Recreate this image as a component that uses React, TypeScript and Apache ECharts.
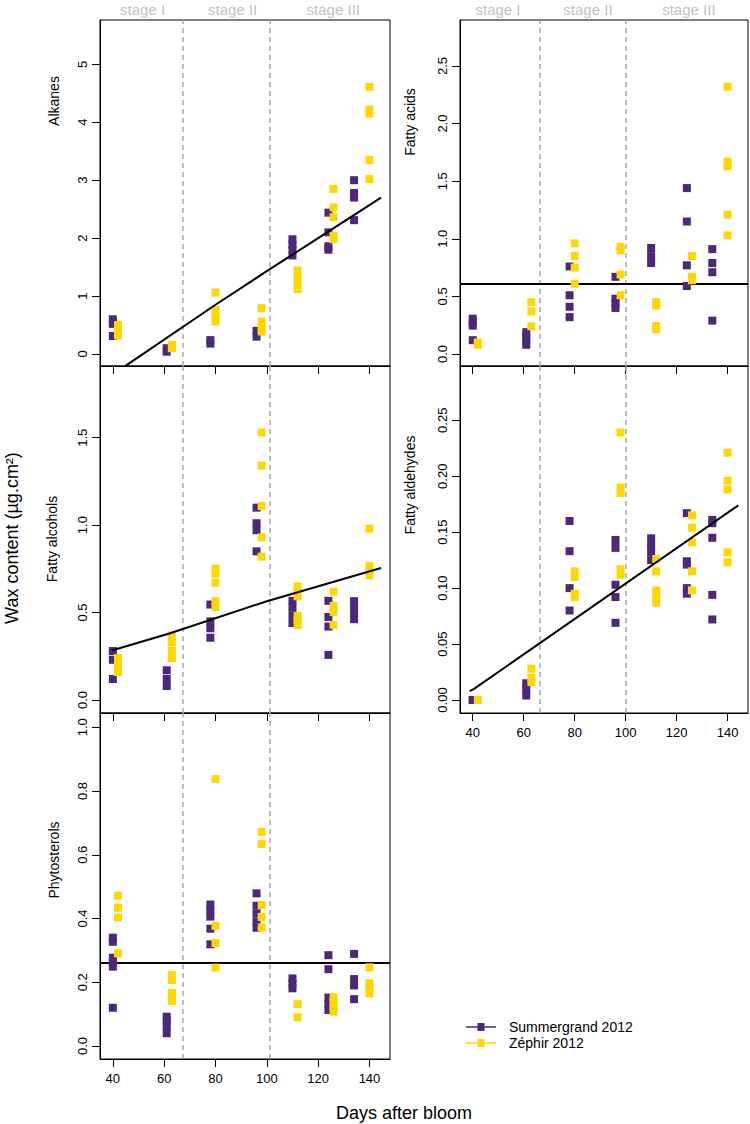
import React, { useEffect, useRef } from 'react';
import * as echarts from 'echarts';

// ---------- data ----------
const summergrandDays = [40, 61, 78, 96, 110, 124, 134];
const zephirDays = [42, 63, 80, 98, 112, 126, 140];

const alkanesSummergrand = [
  [0.31, 0.52, 0.6], [0.04, 0.1], [0.18, 0.24], [0.3, 0.4],
  [1.7, 1.8, 1.89, 1.98], [1.8, 1.86, 2.1, 2.44], [2.31, 2.7, 2.78, 3.0],
];
const alkanesZephir = [
  [0.32, 0.4, 0.5], [0.1, 0.155], [0.56, 0.66, 0.76, 1.06], [0.39, 0.47, 0.56, 0.79],
  [1.12, 1.23, 1.33, 1.44], [1.98, 2.04, 2.36, 2.53, 2.85], [3.02, 3.35, 4.15, 4.22, 4.61],
];
const alkanesFitDays = [44.8, 80, 100, 120, 144.5];
const alkanesFit = [-0.21, 0.85, 1.43, 2.0, 2.7];

const fattyAcidsSummergrand = [
  [0.12, 0.246, 0.276, 0.307], [0.08, 0.12, 0.15, 0.19], [0.32, 0.41, 0.51, 0.76], [0.4, 0.44, 0.48, 0.67],
  [0.79, 0.85, 0.92], [0.59, 0.77, 1.15, 1.44], [0.29, 0.71, 0.79, 0.91],
];
const fattyAcidsZephir = [
  [0.08, 0.1], [0.24, 0.37, 0.45], [0.61, 0.75, 0.85, 0.96], [0.51, 0.69, 0.9, 0.93],
  [0.214, 0.243, 0.42, 0.45], [0.64, 0.67, 0.85], [1.03, 1.21, 1.63, 1.67, 2.32],
];
const fattyAcidsMean = 0.61;

const fattyAlcoholsSummergrand = [
  [0.12, 0.23, 0.28], [0.08, 0.12, 0.17], [0.356, 0.41, 0.45, 0.546], [0.85, 0.971, 1.011, 1.1],
  [0.44, 0.485, 0.53, 0.567], [0.258, 0.42, 0.475, 0.567], [0.462, 0.5, 0.535, 0.565],
];
const fattyAlcoholsZephir = [
  [0.16, 0.2, 0.24], [0.24, 0.28, 0.33, 0.37], [0.532, 0.565, 0.67, 0.722, 0.751], [0.82, 0.93, 1.11, 1.34, 1.53],
  [0.428, 0.455, 0.48, 0.593, 0.62, 0.65], [0.43, 0.504, 0.538, 0.62], [0.713, 0.74, 0.766, 0.98],
];
const fattyAlcoholsFitDays = [39.6, 62, 100, 144.5];
const fattyAlcoholsFit = [0.283, 0.38, 0.565, 0.755];

const fattyAldehydesSummergrand = [
  [0, 0], [0.004, 0.01, 0.015], [0.08, 0.1, 0.133, 0.16], [0.069, 0.092, 0.103, 0.136, 0.143],
  [0.125, 0.132, 0.138, 0.1445], [0.095, 0.1, 0.121, 0.124, 0.167], [0.072, 0.094, 0.145, 0.158, 0.161],
];
const fattyAldehydesZephir = [
  [0], [0.016, 0.02, 0.028], [0.092, 0.095, 0.11, 0.115], [0.112, 0.117, 0.185, 0.19, 0.239],
  [0.087, 0.094, 0.098, 0.115, 0.126], [0.098, 0.115, 0.141, 0.154, 0.165], [0.123, 0.132, 0.188, 0.196, 0.221],
];
const fattyAldehydesFitDays = [38.8, 40.5, 144.2];
const fattyAldehydesFit = [0.008, 0.01, 0.174];

const phytosterolsSummergrand = [
  [0.12, 0.249, 0.263, 0.277, 0.327, 0.34], [0.04, 0.06, 0.08, 0.092], [0.319, 0.368, 0.406, 0.425, 0.444],
  [0.371, 0.39, 0.415, 0.44, 0.479], [0.181, 0.197, 0.212], [0.113, 0.132, 0.152, 0.241, 0.285], [0.147, 0.19, 0.21, 0.289],
];
const phytosterolsZephir = [
  [0.291, 0.403, 0.434, 0.472], [0.141, 0.155, 0.167, 0.207, 0.223], [0.246, 0.323, 0.377, 0.838],
  [0.372, 0.405, 0.442, 0.634, 0.672], [0.09, 0.131], [0.108, 0.123, 0.138, 0.153], [0.165, 0.18, 0.197, 0.247],
];
const phytosterolsMean = 0.262;

const xTicks = [40, 60, 80, 100, 120, 140];
const alkanesTicks = [0, 1, 2, 3, 4, 5];
const fattyAcidsTicks = [0, 0.5, 1, 1.5, 2, 2.5];
const fattyAlcoholsTicks = [0, 0.5, 1, 1.5];
const fattyAldehydesTicks = [0, 0.05, 0.1, 0.15, 0.2, 0.25];
const phytosterolsTicks = [0, 0.2, 0.4, 0.6, 0.8, 1];

const stageNames = ['stage I', 'stage II', 'stage III'];
const stageBoundsLeft = [67.3, 101.3];
const stageBoundsRight = [66.1, 99.9];
const stageLabelDaysLeft = [51.6, 86.7, 125.9];
const stageLabelDaysRight = [49.9, 85.2, 124.8];

const seriesNames = ['Summergrand 2012', 'Zéphir 2012'];

// ---------- styles ----------
const PURPLE = '#4b2879';
const YELLOW = '#ffd700';
const FONT = '"Liberation Sans", Arial, sans-serif';
const X_MIN = 35;
const X_MAX = 148;
const MARK = 8;

const panels = [
  { title: 'Alkanes', left: 100, top: 20, width: 290, height: 346, yMin: -0.207, yMax: 5.765, ticks: alkanesTicks, dec: 0,
    sg: alkanesSummergrand, ze: alkanesZephir, fitX: alkanesFitDays as number[] | null, fitY: alkanesFit as number[] | null, mean: null as number | null,
    bounds: stageBoundsLeft, showX: false, titlePos: [54, 101] },
  { title: 'Fatty alcohols', left: 100, top: 366, width: 290, height: 347, yMin: -0.0743, yMax: 1.91, ticks: fattyAlcoholsTicks, dec: 1,
    sg: fattyAlcoholsSummergrand, ze: fattyAlcoholsZephir, fitX: fattyAlcoholsFitDays, fitY: fattyAlcoholsFit, mean: null,
    bounds: stageBoundsLeft, showX: false, titlePos: [52, 539] },
  { title: 'Phytosterols', left: 100, top: 713, width: 290, height: 346, yMin: -0.0408, yMax: 1.0449, ticks: phytosterolsTicks, dec: 1,
    sg: phytosterolsSummergrand, ze: phytosterolsZephir, fitX: null, fitY: null, mean: phytosterolsMean,
    bounds: stageBoundsLeft, showX: true, titlePos: [54, 860] },
  { title: 'Fatty acids', left: 460, top: 20, width: 288, height: 346, yMin: -0.104, yMax: 2.899, ticks: fattyAcidsTicks, dec: 1,
    sg: fattyAcidsSummergrand, ze: fattyAcidsZephir, fitX: null, fitY: null, mean: fattyAcidsMean,
    bounds: stageBoundsRight, showX: false, titlePos: [410, 122] },
  { title: 'Fatty aldehydes', left: 460, top: 366, width: 288, height: 347, yMin: -0.0116, yMax: 0.2985, ticks: fattyAldehydesTicks, dec: 2,
    sg: fattyAldehydesSummergrand, ze: fattyAldehydesZephir, fitX: fattyAldehydesFitDays, fitY: fattyAldehydesFit, mean: null,
    bounds: stageBoundsRight, showX: true, titlePos: [410, 485] },
];

function buildOption() {
  const grid: any[] = [];
  const xAxis: any[] = [];
  const yAxis: any[] = [];
  const series: any[] = [];
  const graphics: any[] = [];

  panels.forEach((p, i) => {
    grid.push({
      left: p.left, top: p.top, width: p.width, height: p.height,
      show: true, borderColor: '#000', borderWidth: 1, backgroundColor: 'transparent',
      containLabel: false, outerBoundsMode: 'none',
    });
    xAxis.push({
      gridIndex: i, type: 'value', min: X_MIN, max: X_MAX,
      axisLine: { show: true, onZero: false, lineStyle: { color: '#000', width: 1 } },
      axisTick: { show: true, inside: false, length: 8, customValues: xTicks, lineStyle: { color: '#000', width: 1 } },
      axisLabel: { show: p.showX, customValues: xTicks, margin: 13, fontSize: 13, color: '#000', fontFamily: FONT },
      splitLine: { show: false },
    });
    yAxis.push({
      gridIndex: i, type: 'value', min: p.yMin, max: p.yMax,
      axisLine: { show: true, onZero: false, lineStyle: { color: '#000', width: 1 } },
      axisTick: { show: true, inside: false, length: 8, customValues: p.ticks, lineStyle: { color: '#000', width: 1 } },
      axisLabel: {
        customValues: p.ticks, rotate: 90, margin: 11, fontSize: 13, color: '#000', fontFamily: FONT,
        align: 'center', verticalAlign: 'bottom',
        formatter: (v: number) => Number(v).toFixed(p.dec),
      },
      splitLine: { show: false },
    });

    const markData: any[] = p.bounds.map((b) => ({
      xAxis: b, lineStyle: { type: [5, 4], color: '#a8a8a8', width: 1.5 },
    }));
    if (p.mean !== null) {
      markData.push({ yAxis: p.mean, lineStyle: { type: 'solid', color: '#000', width: 2 } });
    }

    series.push({
      type: 'scatter', name: seriesNames[0], xAxisIndex: i, yAxisIndex: i,
      symbol: 'rect', symbolSize: MARK, itemStyle: { color: PURPLE, opacity: 1 }, z: 3,
      data: p.sg.flatMap((vals, j) => vals.map((v) => [summergrandDays[j], v])),
      markLine: { silent: true, symbol: ['none', 'none'], label: { show: false }, data: markData, z: 2 },
    });
    series.push({
      type: 'scatter', name: seriesNames[1], xAxisIndex: i, yAxisIndex: i,
      symbol: 'rect', symbolSize: MARK, itemStyle: { color: YELLOW, opacity: 1 }, z: 4,
      data: p.ze.flatMap((vals, j) => vals.map((v) => [zephirDays[j], v])),
    });
    if (p.fitX && p.fitY) {
      const fy = p.fitY;
      series.push({
        type: 'line', xAxisIndex: i, yAxisIndex: i, symbol: 'none', silent: true, z: 5, clip: true,
        lineStyle: { color: '#000', width: 2 },
        data: p.fitX.map((d, k) => [d, fy[k]]),
      });
    }

    graphics.push({
      type: 'text', x: p.titlePos[0], y: p.titlePos[1], rotation: Math.PI / 2,
      style: { text: p.title, fontSize: 14, fontFamily: FONT, fill: '#000', align: 'center', verticalAlign: 'middle' },
    });
  });

  graphics.push({
    type: 'text', x: 12, y: 538, rotation: Math.PI / 2,
    style: { text: 'Wax content (µg.cm²)', fontSize: 18, fontFamily: FONT, fill: '#000', align: 'center', verticalAlign: 'middle' },
  });
  graphics.push({
    type: 'text', x: 404, y: 1113,
    style: { text: 'Days after bloom', fontSize: 18, fontFamily: FONT, fill: '#000', align: 'center', verticalAlign: 'middle' },
  });

  const option: any = {
    animation: false,
    backgroundColor: '#fff',
    textStyle: { fontFamily: FONT },
    grid, xAxis, yAxis, series,
    legend: {
      data: seriesNames,
      left: 461, top: 1014, orient: 'vertical',
      itemWidth: 30, itemHeight: 8, itemGap: 0,
      icon: 'path://M0,3.2 L30,3.2 L30,4.8 L0,4.8 Z M11.5,0 L18.5,0 L18.5,8 L11.5,8 Z',
      textStyle: { fontSize: 14, color: '#000', fontFamily: FONT, lineHeight: 16, padding: [0, 0, 0, 8] },
      selectedMode: false,
    },
  };
  return { option, graphics };
}

export default function App() {
  const ref = useRef<HTMLDivElement>(null);
  useEffect(() => {
    if (!ref.current) return;
    const chart = echarts.init(ref.current, null, { renderer: 'svg' });
    const { option, graphics } = buildOption();
    chart.setOption(option);
    const stageGraphics: any[] = [];
    const groups: [number, number[]][] = [[0, stageLabelDaysLeft], [3, stageLabelDaysRight]];
    groups.forEach(([gi, days]) => {
      days.forEach((d, k) => {
        const px = chart.convertToPixel({ xAxisIndex: gi }, d) as number;
        stageGraphics.push({
          type: 'text', x: px, y: 9,
          style: { text: stageNames[k], fontSize: 15, fontFamily: FONT, fill: '#c2c2c2', align: 'center', verticalAlign: 'middle' },
        });
      });
    });
    chart.setOption({ graphic: { elements: [...graphics, ...stageGraphics] } });
    return () => chart.dispose();
  }, []);
  return <div ref={ref} style={{ position: 'absolute', left: 0, top: 0, width: 750, height: 1124 }} />;
}
